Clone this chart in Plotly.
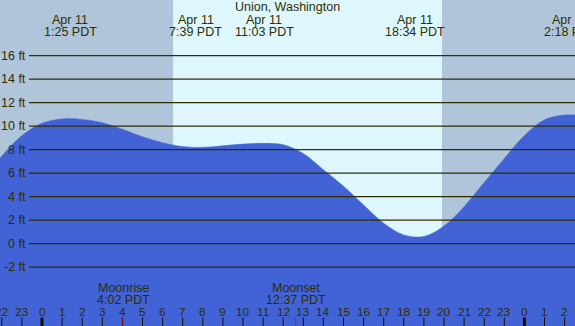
import plotly.graph_objects as go

# ---- data ----
title = "Union, Washington"
hours = list(range(-3, 28))
heights = [5.4, 7.45, 9.2, 10.25, 10.62, 10.58, 10.3, 9.75, 9.1, 8.6, 8.27,
           8.2, 8.33, 8.48, 8.54, 8.42, 7.68, 6.3, 4.9, 3.3, 1.75, 0.75,
           0.62, 1.5, 3.15, 5.2, 7.25, 9.2, 10.55, 10.95, 10.9]
tide_times = [1.417, 7.65, 11.05, 18.567, 26.3]
tide_dates = ["Apr 11", "Apr 11", "Apr 11", "Apr 11", "Apr 12"]
tide_labels = ["1:25 PDT", "7:39 PDT", "11:03 PDT", "18:34 PDT", "2:18 PDT"]
sunrise = 6.52
sunset = 19.9
moon_times = [4.033, 12.617]
moon_names = ["Moonrise", "Moonset"]
moon_labels = ["4:02 PDT", "12:37 PDT"]
feet_ticks = [-2, 0, 2, 4, 6, 8, 10, 12, 14, 16]
hour_ticks = list(range(-2, 27))

# ---- styling ----
W, H = 575, 326
px_per_hour = 20.1
x0_px = 42.0
px_per_ft = 11.75
zero_px = 243.7
xr = [-x0_px / px_per_hour, (W - x0_px) / px_per_hour]
yr = [(zero_px - H) / px_per_ft, zero_px / px_per_ft]

NIGHT = "#b0c4da"
DAY = "#def7ff"
WATER = "#4263d6"
INK = "#2e2e00"
FONT = "Liberation Sans"

fig = go.Figure()
fig.add_trace(go.Scatter(x=hours, y=[yr[0]] * len(hours), mode="lines",
                         line=dict(width=0, color=WATER), hoverinfo="skip",
                         showlegend=False))
fig.add_trace(go.Scatter(x=hours, y=heights, mode="lines", fill="tonexty",
                         fillcolor=WATER, line=dict(width=0.5, color=WATER, shape="spline"),
                         hoverinfo="skip", showlegend=False))

shapes = []
# day / night backgrounds
shapes.append(dict(type="rect", xref="x", yref="paper", x0=xr[0], x1=sunrise, y0=0, y1=1,
                   fillcolor=NIGHT, line=dict(width=0), layer="below"))
shapes.append(dict(type="rect", xref="x", yref="paper", x0=sunrise, x1=sunset, y0=0, y1=1,
                   fillcolor=DAY, line=dict(width=0), layer="below"))
shapes.append(dict(type="rect", xref="x", yref="paper", x0=sunset, x1=xr[1], y0=0, y1=1,
                   fillcolor=NIGHT, line=dict(width=0), layer="below"))
# horizontal lines
for f in feet_ticks:
    shapes.append(dict(type="line", xref="paper", yref="y", x0=29.0 / W, x1=1, y0=f, y1=f,
                       line=dict(color=INK, width=1.3), layer="above"))
# hour ticks
tick_top = 8.5 / H
for h in hour_ticks:
    wdt = 3 if h % 24 == 0 else 1
    shapes.append(dict(type="line", xref="x", yref="paper", x0=h, x1=h, y0=0, y1=tick_top,
                       line=dict(color="#111100", width=wdt), layer="above"))
for m in moon_times:
    shapes.append(dict(type="line", xref="x", yref="paper", x0=m, x1=m, y0=0, y1=tick_top,
                       line=dict(color="#ee1111", width=1), layer="above"))

ann = []
def py(p):
    return 1 - p / H

ann.append(dict(text=title, x=0.5, xref="paper", y=py(7.5), yref="paper",
                showarrow=False, font=dict(size=12.5, color=INK, family=FONT),
                xanchor="center", yanchor="middle"))
for t, d, l in zip(tide_times, tide_dates, tide_labels):
    ann.append(dict(text=d, x=t, xref="x", y=py(20), yref="paper", showarrow=False,
                    font=dict(size=12.5, color=INK, family=FONT), xanchor="center", yanchor="middle"))
    ann.append(dict(text=l, x=t, xref="x", y=py(31.5), yref="paper", showarrow=False,
                    font=dict(size=12.5, color=INK, family=FONT), xanchor="center", yanchor="middle"))
for f in feet_ticks:
    ann.append(dict(text=f"{f} ft", x=27.5 / W, xref="paper", y=f, yref="y", showarrow=False,
                    font=dict(size=12.5, color=INK, family=FONT), xanchor="right", yanchor="middle"))
for m, n, l in zip(moon_times, moon_names, moon_labels):
    ann.append(dict(text=n, x=m, xref="x", y=py(288), yref="paper", showarrow=False,
                    font=dict(size=12.5, color=INK, family=FONT), xanchor="center", yanchor="middle"))
    ann.append(dict(text=l, x=m, xref="x", y=py(299.5), yref="paper", showarrow=False,
                    font=dict(size=12.5, color=INK, family=FONT), xanchor="center", yanchor="middle"))
for h in hour_ticks:
    ann.append(dict(text=str(h % 24), x=h, xref="x", y=py(311.5), yref="paper", showarrow=False,
                    font=dict(size=11.8, color=INK, family=FONT), xanchor="center", yanchor="middle"))

fig.update_layout(
    width=W, height=H, margin=dict(l=0, r=0, t=0, b=0),
    paper_bgcolor=NIGHT, plot_bgcolor=NIGHT,
    xaxis=dict(range=xr, visible=False, fixedrange=True),
    yaxis=dict(range=yr, visible=False, fixedrange=True),
    shapes=shapes, annotations=ann, showlegend=False,
)
fig.write_html("out.html", config={"displayModeBar": False},
               post_script="document.body.style.margin='0';document.body.style.overflow='hidden';")
